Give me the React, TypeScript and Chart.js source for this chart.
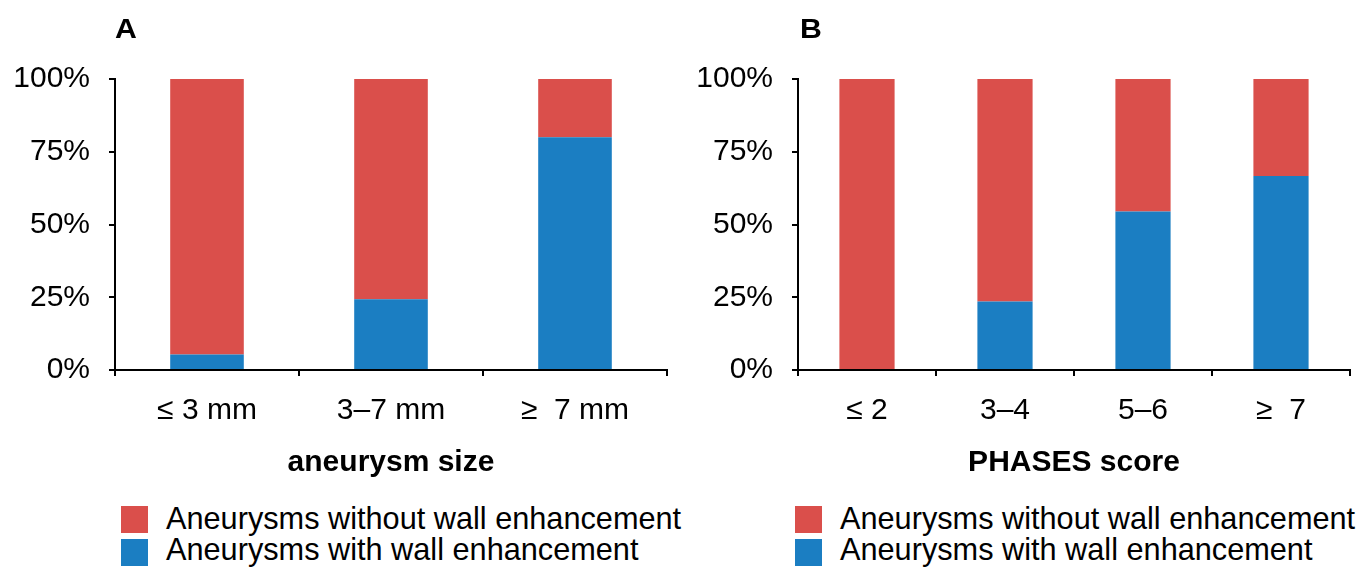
import React, { useEffect, useRef } from "react";
import { Chart, registerables } from "chart.js";

Chart.register(...registerables);

// ---- data ----
const sizeCategories = ["≤ 3 mm", "3–7 mm", "≥  7 mm"];
const sizeWithEnh = [5.3, 24.3, 80];
const sizeWithoutEnh = [94.7, 75.7, 20];

const phasesCategories = ["≤ 2", "3–4", "5–6", "≥  7"];
const phasesWithEnh = [0, 23.5, 54.5, 66.7];
const phasesWithoutEnh = [100, 76.5, 45.5, 33.3];

const yTickValues = [0, 25, 50, 75, 100];
const seriesLabels = ["Aneurysms without wall enhancement", "Aneurysms with wall enhancement"];

const RED = "#DA4F4B";
const BLUE = "#1B7EC2";
const FONT = "'Liberation Sans', Arial, sans-serif";

type PanelProps = {
  left: number;
  width: number;
  height: number;
  yAxisWidth: number;
  rightPad: number;
  categories: string[];
  withEnh: number[];
  withoutEnh: number[];
  title: string;
  letter: string;
  letterLeft: number;
  legendLeft: number;
};

function Panel(p: PanelProps) {
  const ref = useRef<HTMLCanvasElement | null>(null);
  useEffect(() => {
    if (!ref.current) return;
    const chart = new Chart(ref.current, {
      type: "bar",
      data: {
        labels: p.categories,
        datasets: [
          {
            label: seriesLabels[1],
            data: p.withEnh,
            backgroundColor: BLUE,
            borderWidth: 0,
            barPercentage: 0.4,
            categoryPercentage: 1,
          },
          {
            label: seriesLabels[0],
            data: p.withoutEnh,
            backgroundColor: RED,
            borderWidth: 0,
            barPercentage: 0.4,
            categoryPercentage: 1,
          },
        ],
      },
      options: {
        animation: false,
        responsive: false,
        maintainAspectRatio: false,
        layout: { padding: { top: 79, right: p.rightPad, left: 0, bottom: 0 } },
        plugins: { legend: { display: false }, tooltip: { enabled: false } },
        scales: {
          x: {
            stacked: true,
            afterFit: (s: any) => {
              s.height = p.height - 370;
            },
            grid: {
              display: true,
              offset: true,
              drawOnChartArea: false,
              drawTicks: true,
              tickLength: 6,
              color: "#000",
              lineWidth: 2,
            },
            border: { display: true, color: "#000", width: 2 },
            ticks: {
              color: "#000",
              padding: 17,
              font: { family: FONT, size: 30 },
              maxRotation: 0,
              autoSkip: false,
            },
            title: {
              display: true,
              text: p.title,
              color: "#000",
              font: { family: FONT, size: 30, weight: "bold" },
              padding: { top: 0, bottom: 9 },
            },
          },
          y: {
            stacked: true,
            min: 0,
            max: 100,
            afterFit: (s: any) => {
              s.width = p.yAxisWidth;
            },
            afterBuildTicks: (s: any) => {
              s.ticks = yTickValues.map((v) => ({ value: v }));
            },
            grid: {
              display: true,
              drawOnChartArea: false,
              drawTicks: true,
              tickLength: 6,
              color: "#000",
              lineWidth: 2,
            },
            border: { display: true, color: "#000", width: 2 },
            ticks: {
              color: "#000",
              padding: 19,
              font: { family: FONT, size: 30 },
              callback: (v: any) => v + "%",
            },
          },
        },
      },
    });
    return () => chart.destroy();
  }, []);

  return (
    <div style={{ position: "absolute", left: p.left, top: 0, width: p.width, height: 568 }}>
      <canvas ref={ref} width={p.width} height={p.height} style={{ width: p.width, height: p.height, display: "block" }} />
      <div
        style={{
          position: "absolute",
          left: p.letterLeft,
          top: 16,
          font: `bold 27px ${FONT}`,
          lineHeight: "27px",
          color: "#000",
          transform: "scaleX(1.12)",
          transformOrigin: "0 0",
        }}
      >
        {p.letter}
      </div>
      <div style={{ position: "absolute", left: p.legendLeft, top: 506, width: 27, height: 27, background: RED }} />
      <div style={{ position: "absolute", left: p.legendLeft, top: 539, width: 27, height: 27, background: BLUE }} />
      <div
        style={{
          position: "absolute",
          left: p.legendLeft + 45,
          top: 503,
          font: `30.7px ${FONT}`,
          lineHeight: "31px",
          color: "#000",
          whiteSpace: "nowrap",
        }}
      >
        <div>{seriesLabels[0]}</div>
        <div>{seriesLabels[1]}</div>
      </div>
    </div>
  );
}

export default function App() {
  return (
    <div style={{ position: "fixed", left: 0, top: 0, width: 1359, height: 568, background: "#fff", overflow: "hidden" }}>
      <Panel
        left={0}
        width={680}
        height={490}
        yAxisWidth={115}
        rightPad={13}
        categories={sizeCategories}
        withEnh={sizeWithEnh}
        withoutEnh={sizeWithoutEnh}
        title="aneurysm size"
        letter="A"
        letterLeft={115}
        legendLeft={121}
      />
      <Panel
        left={680}
        width={679}
        height={490}
        yAxisWidth={118}
        rightPad={9}
        categories={phasesCategories}
        withEnh={phasesWithEnh}
        withoutEnh={phasesWithoutEnh}
        title="PHASES score"
        letter="B"
        letterLeft={120}
        legendLeft={115}
      />
    </div>
  );
}
